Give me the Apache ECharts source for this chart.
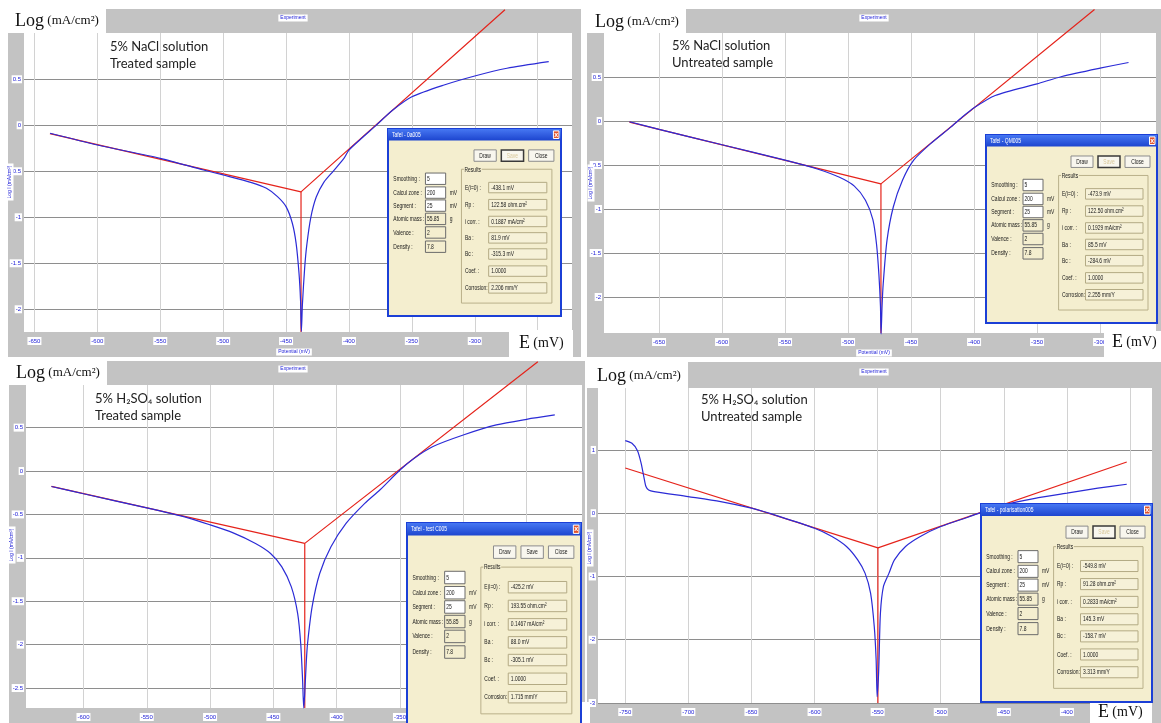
<!DOCTYPE html>
<html>
<head>
<meta charset="utf-8">
<script src="https://cdn.jsdelivr.net/npm/echarts@6/dist/echarts.min.js"></script>
<style>
  html, body { margin: 0; padding: 0; background: #fff; }
  #chart { width: 1161px; height: 723px; }
</style>
</head>
<body>
<div id="chart"></div>
<script>
// ---------- measured polarisation curves: [E (mV), log i (mA/cm²)] ----------
const naclTreatedCurve = [
  [-637.6, -0.087], [-600, -0.214], [-550, -0.359], [-515.6, -0.486], [-500, -0.540],
  [-477.4, -0.623], [-465.6, -0.685], [-456.8, -0.775], [-450, -0.884], [-445, -1.065],
  [-442, -1.283], [-439.7, -1.609], [-438.5, -1.899], [-437.8, -2.24],
  [-437.0, -1.95], [-435.2, -1.55], [-433.5, -1.30], [-430.3, -1.00], [-426, -0.78],
  [-420, -0.62], [-412.6, -0.50], [-404, -0.36], [-400, -0.27], [-389, -0.13],
  [-378.8, -0.006], [-365.6, 0.160], [-350, 0.31], [-324.4, 0.438], [-300, 0.536],
  [-274.4, 0.620], [-241.2, 0.692]
];
const naclUntreatedCurve = [
  [-673.5, -0.008], [-650, -0.095], [-600, -0.27], [-550, -0.445], [-524.4, -0.545],
  [-506.8, -0.64], [-495, -0.74], [-486.2, -0.90], [-480.3, -1.12], [-477.4, -1.40],
  [-475.5, -1.75], [-474.3, -2.10], [-473.8, -2.42],
  [-473.0, -2.10], [-472.1, -1.85], [-469.1, -1.357], [-464.1, -0.977], [-456.8, -0.673],
  [-447.9, -0.445], [-434.7, -0.26], [-418.5, -0.07], [-409.7, 0.04], [-400, 0.15],
  [-383.2, 0.29], [-350, 0.422], [-330.3, 0.506], [-300, 0.601], [-277.4, 0.665]
];
const h2so4TreatedCurve = [
  [-625.3, -0.178], [-600, -0.262], [-550, -0.425], [-517.4, -0.54], [-500, -0.62],
  [-482.2, -0.71], [-464.1, -0.835], [-452.2, -0.95], [-443.3, -1.104], [-435.8, -1.335],
  [-430.8, -1.642], [-428.4, -1.988], [-426.9, -2.412], [-426.0, -2.73],
  [-425.0, -2.50], [-424.0, -2.20], [-423, -1.988], [-419.4, -1.565], [-413.4, -1.181],
  [-404.5, -0.873], [-392.6, -0.604], [-377.8, -0.373], [-365.9, -0.219], [-350, 0.012],
  [-339, 0.145], [-324.3, 0.28], [-300, 0.415], [-273.9, 0.531], [-250, 0.596], [-227.7, 0.646]
];
const h2so4UntreatedCurve = [
  [-750, 1.147], [-744.7, 1.105], [-740.3, 0.989], [-737.4, 0.789], [-735.3, 0.579],
  [-733.6, 0.421], [-731.5, 0.368], [-727.1, 0.342], [-700.2, 0.263], [-674.4, 0.184],
  [-650, 0.079], [-627.5, -0.053], [-600, -0.237], [-586.2, -0.368], [-574.7, -0.526],
  [-565.8, -0.737], [-560, -0.947], [-555.6, -1.263], [-552.7, -1.789], [-551.2, -2.316],
  [-550.4, -2.90],
  [-549.4, -2.60], [-548.9, -2.316], [-547.8, -1.579], [-545.4, -1.158], [-541, -0.947],
  [-536.7, -0.737], [-527.9, -0.526], [-516.2, -0.368], [-500, -0.211], [-478, -0.06],
  [-450, 0.13], [-425.3, 0.235], [-400, 0.316], [-375.5, 0.395], [-352.6, 0.458]
];

// ---------- Tafel fit results: [Ecorr (mV), icorr (mA/cm²), Ba (mV), Bc (mV)] ----------
const naclTreatedTafel    = [-438.1, 0.1887, 81.9, -315.3];
const naclUntreatedTafel  = [-473.9, 0.1929, 85.5, -284.6];
const h2so4TreatedTafel   = [-425.2, 0.1467, 88.0, -305.1];
const h2so4UntreatedTafel = [-549.8, 0.2833, 145.3, -158.7];
// potential span of the fitted Tafel lines [start, end] (mV)
const naclTreatedSpan    = [-637.7, -276.0];
const naclUntreatedSpan  = [-673.5, -304.4];
const h2so4TreatedSpan   = [-625.3, -241.1];
const h2so4UntreatedSpan = [-750.0, -352.6];
// Rp (ohm.cm²), Coef., corrosion rate (mm/Y)
const naclTreatedExtra    = ['122.58', '1.0000', '2.206'];
const naclUntreatedExtra  = ['122.50', '1.0000', '2.255'];
const h2so4TreatedExtra   = ['193.55', '1.0000', '1.715'];
const h2so4UntreatedExtra = ['91.28', '1.0000', '3.313'];

// ---------- tick values ----------
const xTicksNaclTreated    = [-650, -600, -550, -500, -450, -400, -350, -300, -250];
const xTicksNaclUntreated  = [-650, -600, -550, -500, -450, -400, -350, -300];
const xTicksH2so4Treated   = [-600, -550, -500, -450, -400, -350, -300, -250];
const xTicksH2so4Untreated = [-750, -700, -650, -600, -550, -500, -450, -400, -350];
const yTicksNacl           = [-2, -1.5, -1, -0.5, 0, 0.5];
const yTicksH2so4Treated   = [-2.5, -2, -1.5, -1, -0.5, 0, 0.5];
const yTicksH2so4Untreated = [-3, -2, -1, 0, 1];

// ---------- texts ----------
const solutionNacl  = '5% NaCl solution';
const solutionH2so4 = '5% H₂SO₄ solution';
const treatedText   = 'Treated sample';
const untreatedText = 'Untreated sample';
const dialogTitles  = ['Tafel - 0a005', 'Tafel - QM005', 'Tafel - test C005', 'Tafel - polarisation005'];
const inputLabels   = ['Smoothing :', 'Calcul zone :', 'Segment :', 'Atomic mass :', 'Valence :', 'Density :'];
const inputValues   = ['5', '200', '25', '55.85', '2', '7.8'];
const inputUnits    = ['', 'mV', 'mV', 'g', '', ''];
const resultLabels  = ['E(i=0) :', 'Rp :', 'i corr. :', 'Ba :', 'Bc :', 'Coef. :', 'Corrosion:'];

// ---------- fonts / colours ----------
const FONT_UI = '"Liberation Sans","DejaVu Sans",sans-serif';
const FONT_SERIF = '"Liberation Serif","DejaVu Serif",serif';
const FONT_NOTE = 'Lato,"Noto Sans","DejaVu Sans",sans-serif';
const FRAME_GREY = '#c3c3c3';
const TICK_BLUE = '#2323d8';
const UI_SQUEEZE = 0.66;   // narrow dialog lettering

// ---------- panel layout (pixels and axis extents) ----------
const panels = [
  { grid: { left: 24, top: 33, width: 548, height: 299 }, x: [-658.3, -222.7], y: [-2.247, 1.003],
    xt: xTicksNaclTreated, yt: yTicksNacl, curve: naclTreatedCurve, tafel: naclTreatedTafel, span: naclTreatedSpan },
  { grid: { left: 604, top: 33, width: 552, height: 300 }, x: [-693.7, -255.6], y: [-2.409, 1.0],
    xt: xTicksNaclUntreated, yt: yTicksNacl, curve: naclUntreatedCurve, tafel: naclUntreatedTafel, span: naclUntreatedSpan },
  { grid: { left: 26, top: 385, width: 556, height: 323 }, x: [-645.4, -206.2], y: [-2.73, 0.991],
    xt: xTicksH2so4Treated, yt: yTicksH2so4Treated, curve: h2so4TreatedCurve, tafel: h2so4TreatedTafel, span: h2so4TreatedSpan },
  { grid: { left: 598, top: 388, width: 554, height: 315 }, x: [-771.6, -332.6], y: [-3.0, 1.979],
    xt: xTicksH2so4Untreated, yt: yTicksH2so4Untreated, curve: h2so4UntreatedCurve, tafel: h2so4UntreatedTafel, span: h2so4UntreatedSpan }
];

// ---------- helpers for graphic elements ----------
function rect(x, y, w, h, fill, stroke, z, lw) {
  return { type: 'rect', silent: true, z: z, shape: { x: x, y: y, width: w, height: h },
           style: { fill: fill, stroke: stroke || null, lineWidth: lw || 1 } };
}
function label(x, y, s, z, style) {
  return { type: 'text', silent: true, z: z, x: x, y: y,
           style: Object.assign({ text: s, fontSize: 7, fontFamily: FONT_UI, fill: '#1a1a1a',
                                  align: 'left', verticalAlign: 'middle' }, style || {}) };
}
function uiLabel(x, y, s, z, style) {
  const el = label(x, y, s, z, Object.assign({ fontSize: 7.5 }, style || {}));
  el.scaleX = UI_SQUEEZE;
  return el;
}

// Tafel window with its parameters and results
function tafelDialog(x0, y0, w, h, title, tafel, extra, saveOn) {
  const sx = w / 171, sy = h / 197;
  const X = v => x0 + v * sx, Y = v => y0 + v * sy;
  const Z = 20;
  const els = [];
  els.push(rect(x0, y0, w, h, '#f4eecf', '#1b3fd6', Z, 2));
  els.push({ type: 'rect', silent: true, z: Z, shape: { x: x0, y: y0, width: w, height: 12 * sy },
    style: { fill: new echarts.graphic.LinearGradient(0, 0, 0, 1, [
      { offset: 0, color: '#4677f2' }, { offset: 1, color: '#1d45cf' }]) } });
  els.push(uiLabel(X(4), Y(6), title, Z + 1, { fill: '#fff' }));
  els.push(rect(X(163.5), Y(2), 5.5 * sx, 8 * sy, '#e2542c', '#fff', Z + 1));
  els.push(label(X(166.2), Y(6.2), 'x', Z + 2, { fill: '#fff', align: 'center', fontSize: 7, fontWeight: 'bold' }));

  [['Draw', 85, 107], ['Save', 112, 134], ['Close', 139, 164]].forEach(function (b, i) {
    const isSave = i === 1;
    els.push(rect(X(b[1]), Y(22), (b[2] - b[1]) * sx, 12 * sy, '#f8f6ee',
                  isSave && !saveOn ? '#3a3a3a' : '#8c8c8c', Z + 1, isSave && !saveOn ? 1.5 : 1));
    els.push(uiLabel(X((b[1] + b[2]) / 2), Y(28), b[0], Z + 2,
                   { align: 'center', fill: isSave && !saveOn ? '#d9c89a' : '#1a1a1a' }));
  });

  const rows = [52.4, 67, 80.7, 94.7, 109, 124];
  inputLabels.forEach(function (t, i) {
    els.push(uiLabel(X(5.3), Y(rows[i]), t, Z + 1));
    els.push(rect(X(37), Y(rows[i] - 6), 20 * sx, 12 * sy, i < 3 ? '#ffffff' : '#f4eecf', '#6b6b6b', Z + 1));
    els.push(uiLabel(X(38.5), Y(rows[i]), inputValues[i], Z + 2));
    if (inputUnits[i]) els.push(uiLabel(X(61), Y(rows[i]), inputUnits[i], Z + 1));
  });

  els.push(rect(X(72.6), Y(42.4), 89.4 * sx, 141 * sy, null, '#b9b08a', Z + 1));
  els.push(uiLabel(X(75), Y(42.6), 'Results', Z + 2, { backgroundColor: '#f4eecf', padding: [0, 1] }));

  const Ecorr = tafel[0], icorr = tafel[1], Ba = tafel[2], Bc = tafel[3];
  const values = [Ecorr.toFixed(1) + ' mV', extra[0] + ' ohm.cm²', icorr.toFixed(4) + ' mA/cm²',
                  Ba.toFixed(1) + ' mV', Bc.toFixed(1) + ' mV', extra[1], extra[2] + ' mm/Y'];
  const rrows = [61.7, 79.7, 97.4, 114.7, 131.7, 149.7, 167.4];
  resultLabels.forEach(function (t, i) {
    els.push(uiLabel(X(76), Y(rrows[i]), t, Z + 2));
    els.push(rect(X(99.5), Y(rrows[i] - 5.5), 57.5 * sx, 11 * sy, '#f6f1d8', '#b3aa84', Z + 2));
    els.push(uiLabel(X(102), Y(rrows[i]), values[i], Z + 3));
  });
  return els;
}

// Log / E axis captions drawn as white boxes
function logCaption(bx, by, bw, bh, tx, ty) {
  return [
    rect(bx, by, bw, bh, '#ffffff', null, 15),
    { type: 'text', silent: true, z: 16, x: tx, y: ty, style: {
        text: '{a|Log} {b|(mA/cm²)}', verticalAlign: 'middle', align: 'left',
        rich: { a: { fontSize: 18, fontFamily: FONT_SERIF, fill: '#111' },
                b: { fontSize: 13, fontFamily: FONT_SERIF, fill: '#111' } } } }
  ];
}
function eCaption(bx, by, bw, bh, tx, ty) {
  return [
    rect(bx, by, bw, bh, '#ffffff', null, 15),
    { type: 'text', silent: true, z: 16, x: tx, y: ty, style: {
        text: '{a|E} {b|(mV)}', verticalAlign: 'middle', align: 'left',
        rich: { a: { fontSize: 18, fontFamily: FONT_SERIF, fill: '#111' },
                b: { fontSize: 14, fontFamily: FONT_SERIF, fill: '#111' } } } }
  ];
}
function note(x, y, l1, l2) {
  return [
    label(x, y, l1, 8, { fontSize: 13, fontFamily: FONT_NOTE, fill: '#222' }),
    label(x, y + 17, l2, 8, { fontSize: 13, fontFamily: FONT_NOTE, fill: '#222' })
  ];
}
function tiny(x, y, s, rot) {
  const el = label(x, y, s, 4, { fontSize: 5, fill: TICK_BLUE, align: 'center',
                                 backgroundColor: '#ffffff', padding: [1, 2] });
  if (rot) el.rotation = Math.PI / 2;
  return el;
}

// ---------- graphic layers ----------
let graphics = [];
// grey window frames
graphics.push(rect(8, 9, 573, 348, FRAME_GREY, null, -5));
graphics.push(rect(587, 9, 574, 348, FRAME_GREY, null, -5));
graphics.push(rect(9, 361, 576, 362, FRAME_GREY, null, -5));
graphics.push(rect(587, 362, 574, 361, FRAME_GREY, null, -5));
// window captions and axis titles
graphics.push(tiny(293, 18, 'Experiment'), tiny(874, 18, 'Experiment'),
              tiny(293, 369, 'Experiment'), tiny(874, 372, 'Experiment'));
graphics.push(tiny(294, 352, 'Potential (mV)'), tiny(874, 353, 'Potential (mV)'));
graphics.push(tiny(10, 182, 'Log I (mA/cm²)', true), tiny(591, 183, 'Log I (mA/cm²)', true),
              tiny(12, 545, 'Log I (mA/cm²)', true), tiny(590, 548, 'Log I (mA/cm²)', true));
// captions
graphics = graphics.concat(
  logCaption(5, 3, 101, 30, 15, 21), logCaption(585, 6, 101, 27, 595, 22),
  logCaption(4, 358, 103, 27, 16, 373), logCaption(585, 361, 103, 27, 597, 376),
  eCaption(509, 330, 64, 27, 519, 343), eCaption(1104, 331, 57, 26, 1112, 342),
  eCaption(525, 702, 65, 21, 535, 715), eCaption(1090, 703, 62, 20, 1098, 712),
  note(110, 47, solutionNacl, treatedText), note(672, 46, solutionNacl, untreatedText),
  note(95, 399, solutionH2so4, treatedText), note(701, 400, solutionH2so4, untreatedText)
);
// Tafel windows
graphics = graphics.concat(
  tafelDialog(388, 129, 173, 187, dialogTitles[0], naclTreatedTafel, naclTreatedExtra, false),
  tafelDialog(986, 135, 171, 188, dialogTitles[1], naclUntreatedTafel, naclUntreatedExtra, false),
  tafelDialog(407, 523, 174, 205, dialogTitles[2], h2so4TreatedTafel, h2so4TreatedExtra, true),
  tafelDialog(981, 504, 171, 198, dialogTitles[3], h2so4UntreatedTafel, h2so4UntreatedExtra, false)
);

// ---------- axes and series ----------
const tickLabel = { fontSize: 6, color: TICK_BLUE, fontFamily: FONT_UI, backgroundColor: '#ffffff', padding: [1, 1] };
const grids = [], xAxes = [], yAxes = [], series = [];
panels.forEach(function (p, i) {
  grids.push(Object.assign({ show: true, backgroundColor: '#ffffff', borderWidth: 0, containLabel: false,
                             outerBoundsMode: 'none' }, p.grid));
  xAxes.push({ type: 'value', gridIndex: i, min: p.x[0], max: p.x[1],
    axisLine: { show: false }, axisTick: { show: false, customValues: p.xt },
    axisLabel: Object.assign({ customValues: p.xt, margin: 5 }, tickLabel),
    splitLine: { show: true, lineStyle: { color: '#d2d2d2', width: 1 } } });
  yAxes.push({ type: 'value', gridIndex: i, min: p.y[0], max: p.y[1],
    axisLine: { show: false }, axisTick: { show: false, customValues: p.yt },
    axisLabel: Object.assign({ customValues: p.yt, margin: 2 }, tickLabel),
    splitLine: { show: true, lineStyle: { color: '#8e8e8e', width: 1 } } });

  // Tafel lines from the fitted Ecorr, icorr, Ba and Bc
  const Ecorr = p.tafel[0], logIcorr = Math.log10(p.tafel[1]), Ba = p.tafel[2], Bc = p.tafel[3];
  const tafelPath = [
    [p.span[0], logIcorr + (Ecorr - p.span[0]) / Math.abs(Bc)],
    [Ecorr, logIcorr],
    [p.span[1], logIcorr + (p.span[1] - Ecorr) / Ba]
  ];
  const ecorrDrop = [[Ecorr, logIcorr], [Ecorr, p.y[0]]];
  series.push({ type: 'line', xAxisIndex: i, yAxisIndex: i, data: tafelPath, symbol: 'none', clip: false, z: 5,
                lineStyle: { color: '#e5231b', width: 1.2 } });
  series.push({ type: 'line', xAxisIndex: i, yAxisIndex: i, data: ecorrDrop, symbol: 'none', clip: false, z: 5,
                lineStyle: { color: '#e5231b', width: 1.2 } });
  series.push({ type: 'line', xAxisIndex: i, yAxisIndex: i, data: p.curve, symbol: 'none', clip: false, z: 6,
                smooth: 0.25, lineStyle: { color: '#2b2bd6', width: 1.2 } });
});

const chart = echarts.init(document.getElementById('chart'), null, { renderer: 'canvas' });
chart.setOption({
  animation: false,
  backgroundColor: '#ffffff',
  grid: grids,
  xAxis: xAxes,
  yAxis: yAxes,
  series: series,
  graphic: { elements: graphics }
});
</script>
</body>
</html>
